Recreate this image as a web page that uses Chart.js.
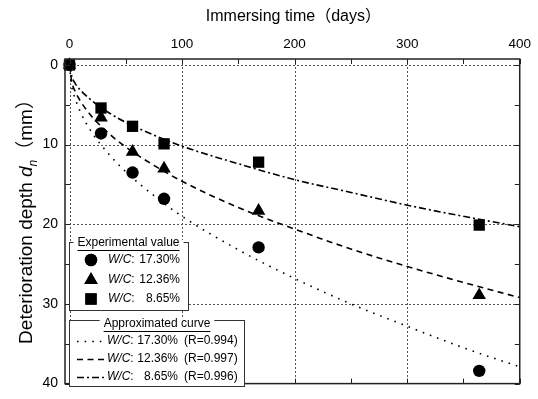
<!DOCTYPE html>
<html>
<head>
<meta charset="utf-8">
<script src="https://cdn.jsdelivr.net/npm/chart.js@4.4.1/dist/chart.umd.min.js"></script>
<style>
  html, body { margin: 0; padding: 0; background: #fff; }
  #wrap { width: 538px; height: 399px; position: relative; }
</style>
</head>
<body>
<div id="wrap"><canvas id="chart" width="538" height="399"></canvas></div>
<script>
// ====== DATA ======
const expDays = [0, 28, 56, 84, 168, 364];
const depthWC1730 = [0, 8.6, 13.5, 16.8, 22.9, 38.4];
const depthWC1236 = [0, 6.6, 10.9, 13.0, 18.3, 28.9];
const depthWC865 = [0, 5.4, 7.7, 9.9, 12.2, 20.1];

// approximated curves
const curveDays = [0, 2, 5, 10, 20, 35, 50, 75, 100, 150, 200, 250, 300, 350, 400];
const curveWC1730 = [0, 2.7, 4.2, 6.0, 8.5, 11.2, 13.4, 16.4, 19.0, 23.2, 26.8, 30.0, 32.8, 35.5, 37.9];
const curveWC1236 = [0, 2.1, 3.3, 4.6, 6.5, 8.6, 10.3, 12.6, 14.6, 17.9, 20.6, 23.1, 25.3, 27.3, 29.2];
const curveWC865 = [0, 1.4, 2.3, 3.2, 4.5, 6.0, 7.2, 8.8, 10.2, 12.4, 14.4, 16.0, 17.6, 19.0, 20.3];

const xTicks = [0, 100, 200, 300, 400];
const yTicks = [0, 10, 20, 30, 40];
const wcLabels = ["17.30%", "12.36%", "8.65%"];
const rLabels = ["(R=0.994)", "(R=0.997)", "(R=0.996)"];

// ====== STYLE ======
const FONT = "'Liberation Sans', Arial, 'Noto Sans CJK JP', sans-serif";
const ink = "#000";
const gridColor = "#555";
const markerStyles = ["circle", "triangle", "rect"];
const markerRadius = [6.2, 7.8, 8];
const curveDash = [[1.6, 6], [6, 4.5], [7, 3, 2, 3]];

const pts = (xs, ys) => xs.map((x, i) => ({ x, y: ys[i] }));

const expSeries = [depthWC1730, depthWC1236, depthWC865];
const curveSeries = [curveWC1730, curveWC1236, curveWC865];

const datasets = [];
expSeries.forEach((ys, i) => {
  datasets.push({
    type: "scatter",
    data: pts(expDays, ys),
    pointStyle: markerStyles[i],
    pointRadius: markerRadius[i],
    pointBackgroundColor: ink,
    pointBorderColor: ink,
    pointBorderWidth: 0,
    showLine: false,
    clip: false,
    order: 0,
  });
});
curveSeries.forEach((ys, i) => {
  datasets.push({
    type: "line",
    data: pts(curveDays, ys),
    borderColor: ink,
    borderWidth: 1.6,
    borderDash: curveDash[i],
    pointRadius: 0,
    tension: 0.4,
    cubicInterpolationMode: "monotone",
    fill: false,
    order: 1,
  });
});

// ====== PLUGINS ======
const gridPlugin = {
  id: "dottedGrid",
  beforeDatasetsDraw(chart) {
    const { ctx, chartArea: a, scales: { x, y } } = chart;
    ctx.save();
    ctx.strokeStyle = gridColor;
    ctx.lineWidth = 1;
    ctx.setLineDash([2, 2]);
    xTicks.slice(0, -1).forEach((v) => {
      const px = Math.round(x.getPixelForValue(v)) + 0.5;
      ctx.beginPath(); ctx.moveTo(px, a.top); ctx.lineTo(px, a.bottom); ctx.stroke();
    });
    yTicks.slice(0, -1).forEach((v) => {
      const py = Math.round(y.getPixelForValue(v)) + 0.5;
      ctx.beginPath(); ctx.moveTo(a.left, py); ctx.lineTo(a.right, py); ctx.stroke();
    });
    ctx.restore();
  },
};

function drawWC(ctx, x, y) {
  ctx.font = "italic 12px " + FONT;
  ctx.textAlign = "left";
  ctx.fillText("W/C", x, y);
  const w = ctx.measureText("W/C").width;
  ctx.font = "12px " + FONT;
  ctx.fillText(":", x + w, y);
}

const framePlugin = {
  id: "frameAndLegend",
  afterDatasetsDraw(chart) {
    const { ctx, chartArea: a, scales: { x, y } } = chart;
    ctx.save();
    ctx.strokeStyle = "#222";
    ctx.lineWidth = 1.5;
    ctx.setLineDash([]);
    ctx.strokeRect(a.left, a.top, a.right - a.left, a.bottom - a.top);
    ctx.lineWidth = 1;
    const tl = 5;
    for (let v = 0; v <= 400; v += 50) {
      const px = Math.round(x.getPixelForValue(v)) + 0.5;
      ctx.beginPath();
      ctx.moveTo(px, a.top); ctx.lineTo(px, a.top + tl);
      ctx.moveTo(px, a.bottom); ctx.lineTo(px, a.bottom - tl);
      ctx.stroke();
    }
    for (let v = 0; v <= 40; v += 5) {
      const py = Math.round(y.getPixelForValue(v)) + 0.5;
      ctx.beginPath();
      ctx.moveTo(a.left, py); ctx.lineTo(a.left + tl, py);
      ctx.moveTo(a.right, py); ctx.lineTo(a.right - tl, py);
      ctx.stroke();
    }

    // axis titles
    ctx.fillStyle = ink;
    ctx.font = "16px " + FONT;
    ctx.textAlign = "center";
    ctx.textBaseline = "middle";
    ctx.fillText("Immersing time（days）", (a.left + a.right) / 2 + 1, 17);

    ctx.save();
    ctx.translate(32, 217);
    ctx.rotate(-Math.PI / 2);
    ctx.textBaseline = "alphabetic";
    const parts = [
      ["Deterioration depth ", "19px " + FONT, 0],
      ["d", "italic 19px " + FONT, 0],
      ["n", "italic 12px " + FONT, 5],
      ["（mm）", "19px " + FONT, 0],
    ];
    let total = 0;
    parts.forEach((p) => { ctx.font = p[1]; total += ctx.measureText(p[0]).width; });
    let cx = -total / 2;
    ctx.textAlign = "left";
    parts.forEach((p) => {
      ctx.font = p[1];
      ctx.fillText(p[0], cx, p[2]);
      cx += ctx.measureText(p[0]).width;
    });
    ctx.restore();

    // legend boxes
    const boxes = [
      { l: 69, t: 242, r: 188, b: 310, title: "Experimental value", tx: 128.5, ty: 243 },
      { l: 69, t: 320, r: 244, b: 386, title: "Approximated curve", tx: 157, ty: 324 },
    ];
    ctx.textBaseline = "middle";
    boxes.forEach((bx) => {
      ctx.fillStyle = "#fff";
      ctx.fillRect(bx.l, bx.t, bx.r - bx.l, bx.b - bx.t);
      ctx.strokeStyle = "#333";
      ctx.lineWidth = 1;
      ctx.setLineDash([]);
      ctx.strokeRect(bx.l + 0.5, bx.t + 0.5, bx.r - bx.l, bx.b - bx.t);
      ctx.font = "12px " + FONT;
      const tw = ctx.measureText(bx.title).width;
      ctx.fillRect(bx.tx - tw / 2 - 4, bx.t - 2, tw + 8, 6);
      ctx.fillStyle = ink;
      ctx.textAlign = "center";
      ctx.fillText(bx.title, bx.tx, bx.ty);
      ctx.fillRect(bx.tx - tw / 2, bx.ty + 7, tw, 1);
    });

    const rowsA = [260, 280, 299];
    rowsA.forEach((ry, i) => {
      Chart.helpers.drawPoint(ctx, {
        pointStyle: markerStyles[i], radius: markerRadius[i], borderWidth: 0,
      }, 91, ry);
      ctx.fillStyle = ink;
      ctx.fill();
      drawWC(ctx, 108, ry);
      ctx.textAlign = "right";
      ctx.fillText(wcLabels[i], 180, ry);
    });

    const rowsB = [341, 359, 377];
    rowsB.forEach((ry, i) => {
      ctx.save();
      ctx.strokeStyle = ink;
      ctx.lineWidth = 1.5;
      ctx.setLineDash(curveDash[i]);
      ctx.beginPath(); ctx.moveTo(77, ry + 0.5); ctx.lineTo(106, ry + 0.5); ctx.stroke();
      ctx.restore();
      ctx.fillStyle = ink;
      drawWC(ctx, 107, ry);
      ctx.textAlign = "right";
      ctx.fillText(wcLabels[i], 178, ry);
      ctx.textAlign = "left";
      ctx.fillText(rLabels[i], 184, ry);
    });
    ctx.restore();
  },
};

// ====== CHART ======
const chart = new Chart(document.getElementById("chart"), {
  type: "scatter",
  data: { datasets },
  options: {
    responsive: false,
    animation: false,
    layout: { padding: { left: 0, right: 16, top: 0, bottom: 5 } },
    plugins: { legend: { display: false }, tooltip: { enabled: false } },
    scales: {
      x: {
        type: "linear",
        position: "top",
        min: -4,
        max: 400,
        afterBuildTicks: (s) => { s.ticks = xTicks.map((v) => ({ value: v })); },
        afterFit: (s) => { s.height = 59; },
        grid: { display: false, drawTicks: false },
        border: { display: false },
        ticks: { color: ink, font: { family: FONT, size: 13.5 }, padding: 7, maxRotation: 0 },
      },
      y: {
        type: "linear",
        reverse: true,
        min: -0.75,
        max: 40,
        afterBuildTicks: (s) => { s.ticks = yTicks.map((v) => ({ value: v })); },
        afterFit: (s) => { s.width = 65; },
        grid: { display: false, drawTicks: false },
        border: { display: false },
        ticks: { color: ink, font: { family: FONT, size: 14 }, padding: 7 },
      },
    },
  },
  plugins: [gridPlugin, framePlugin],
});
</script>
</body>
</html>
